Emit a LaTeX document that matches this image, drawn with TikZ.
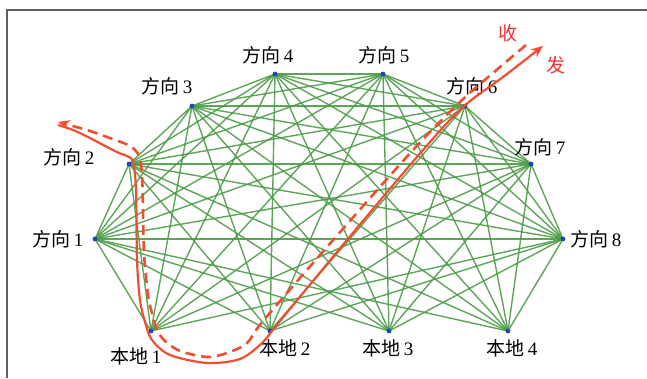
\documentclass[tikz,border=0pt]{standalone}
\usepackage{fontspec}
\setmainfont{Liberation Serif}
\newfontfamily\cjk{Noto Sans CJK SC}
\usetikzlibrary{arrows.meta,backgrounds}
\definecolor{edgegreen}{RGB}{76,155,72}
\definecolor{dotblue}{RGB}{30,70,180}
\definecolor{pathred}{RGB}{240,78,48}
\definecolor{txtred}{RGB}{236,50,50}
\definecolor{framegray}{RGB}{95,95,95}
\tikzset{
  edge/.style={draw=edgegreen, line width=1.4pt, opacity=0.9},
  dot/.style={circle, fill=dotblue, inner sep=0pt, minimum size=4.8pt},
  lab/.style={inner sep=0pt, font=\fontsize{19}{19}\selectfont},
  redlab/.style={inner sep=0pt, text=txtred, font=\fontsize{19}{19}\selectfont\cjk},
  sendline/.style={draw=pathred, line width=2.2pt},
  recvline/.style={draw=pathred, line width=2.6pt, dash pattern=on 10pt off 6pt},
  redtip/.style={-{Stealth[length=12pt,width=10pt]}},
}
\begin{document}
\begin{tikzpicture}[x=1pt,y=-1pt]
\useasboundingbox (0,0) rectangle (647,378);
% frame
\draw[framegray, line width=1.4pt] (7,378) -- (7,10) -- (647,10);
% nodes
\node[dot] (d1) at (95,239) {};
\node[dot] (d2) at (129,164) {};
\node[dot] (d3) at (192,106) {};
\node[dot] (d4) at (275,74) {};
\node[dot] (d5) at (383,74) {};
\node[dot] (d6) at (465,106) {};
\node[dot] (d7) at (531,164) {};
\node[dot] (d8) at (563,239) {};
\node[dot] (l1) at (151,331) {};
\node[dot] (l2) at (270,331) {};
\node[dot] (l3) at (389,331) {};
\node[dot] (l4) at (508,331) {};
% edges
\begin{scope}[on background layer]
\foreach \i in {1,...,7}{
  \pgfmathtruncatemacro\k{\i+1}
  \foreach \j in {\k,...,8}{\draw[edge] (d\i.center) -- (d\j.center);}
}
\foreach \i in {1,...,8}{
  \foreach \j in {1,...,4}{\draw[edge] (d\i.center) -- (l\j.center);}
}
\end{scope}
% labels
\node[lab] (t1) at (58,239) {{\cjk 方向}\,1};
\node[lab] (t2) at (69,157) {{\cjk 方向}\,2};
\node[lab] (t3) at (167,86) {{\cjk 方向}\,3};
\node[lab] (t4) at (268,55) {{\cjk 方向}\,4};
\node[lab] (t5) at (384,55) {{\cjk 方向}\,5};
\node[lab] (t6) at (472,86) {{\cjk 方向}\,6};
\node[lab] (t7) at (540,147) {{\cjk 方向}\,7};
\node[lab] (t8) at (596,239) {{\cjk 方向}\,8};
\node[lab] (b1) at (136,356) {{\cjk 本地}\,1};
\node[lab] (b2) at (285,348) {{\cjk 本地}\,2};
\node[lab] (b3) at (388,348) {{\cjk 本地}\,3};
\node[lab] (b4) at (512,348) {{\cjk 本地}\,4};
\node[redlab] (shou) at (508,33) {收};
\node[redlab] (fa) at (556,65) {发};
% red paths
\draw[sendline, redtip] plot[smooth, tension=0.5] coordinates {
  (58,125) (73,130) (90,138) (107,147) (119,153) (127,156) (133,162)
  (136,190) (137,260) (140,300) (145,322) (152,340) (170,355) (207,363)
  (240,359) (262,343) (280,321) (347,240) (423,150) (463,107) (503,77) (543,46)};
\draw[recvline, redtip] plot[smooth, tension=0.5] coordinates {
  (526,45) (500,67) (461,101) (413,150) (327,247) (263,321) (247,343)
  (227,353) (207,357) (180,351) (165,341) (157,330) (152,313) (148,295)
  (144,253) (143,210) (142,175) (139,156) (130,146) (107,137) (87,130) (58,122)};
\end{tikzpicture}
\end{document}
